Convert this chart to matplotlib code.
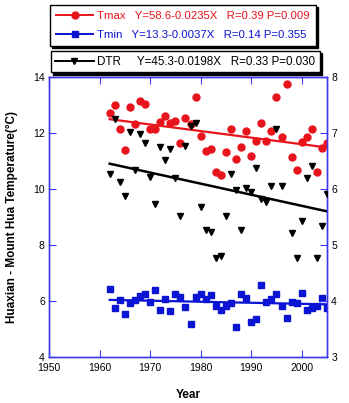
"""Tmax / Tmin / DTR trends, Huaxian - Mount Hua, 1962-2005."""

import numpy as np
import matplotlib
matplotlib.use("Agg")
import matplotlib.pyplot as plt
from matplotlib.lines import Line2D

plt.rcParams["font.family"] = ["Liberation Sans", "DejaVu Sans"]

years = np.arange(1962, 2006)

tmax = [12.73, 13.00, 12.13, 11.38, 12.92, 12.33, 13.14, 13.05, 12.14, 12.13,
        12.40, 12.60, 12.37, 12.44, 11.65, 12.52, 12.31, 13.29, 11.90, 11.35,
        11.44, 10.61, 10.50, 11.31, 12.13, 11.06, 11.50, 12.08, 11.18, 11.73,
        12.37, 11.73, 12.07, 13.30, 11.86, 13.76, 11.14, 10.68, 11.68, 11.87,
        12.13, 10.60, 11.46, 11.65]

tmin = [6.43, 5.76, 6.02, 5.54, 5.92, 6.02, 6.17, 6.24, 5.95, 6.39,
        5.67, 6.07, 5.65, 6.25, 6.13, 5.80, 5.19, 6.14, 6.24, 6.08,
        6.22, 5.83, 5.67, 5.81, 5.93, 5.06, 6.26, 6.10, 5.25, 5.36,
        6.57, 5.95, 6.06, 6.25, 5.82, 5.39, 5.96, 5.92, 6.27, 5.68,
        5.74, 5.83, 6.12, 5.74]

dtr = [6.27, 7.25, 6.12, 5.88, 7.01, 6.34, 6.99, 6.83, 6.21, 5.74,
       6.75, 6.52, 6.71, 6.20, 5.52, 6.76, 7.13, 7.17, 5.68, 5.26,
       5.23, 4.76, 4.80, 5.52, 6.26, 5.99, 5.27, 6.01, 5.95, 6.38,
       5.82, 5.77, 6.05, 7.07, 6.05, 8.37, 5.21, 4.76, 5.42, 6.20,
       6.41, 4.76, 5.34, 5.91]

# regression coefficients (intercept, slope) as printed in the legend
fit_tmax = (58.6, -0.0235)
fit_tmin = (13.3, -0.0037)
fit_dtr = (45.3, -0.0198)

labels = {
    "tmax": "Tmax   Y=58.6-0.0235X   R=0.39 P=0.009",
    "tmin": "Tmin   Y=13.3-0.0037X   R=0.14 P=0.355",
    "dtr": "DTR     Y=45.3-0.0198X   R=0.33 P=0.030",
}

RED = "#e8141c"
BLUE = "#0a14d2"
AXBLUE = "#3a3af0"

fig = plt.figure(figsize=(3.49, 4.03), dpi=100)
ax = fig.add_axes([0.1404, 0.1141, 0.7966, 0.6948])
ax2 = ax.twinx()

line = lambda c: c[0] + c[1] * years

ax.plot(years, tmax, "o", color=RED, ms=5.0, mec=RED, zorder=3)
ax.plot(years, line(fit_tmax), "-", color=RED, lw=1.6, zorder=2)
ax.plot(years, tmin, "s", color=BLUE, ms=4.4, mec=BLUE, zorder=3)
ax.plot(years, line(fit_tmin), "-", color=BLUE, lw=1.6, zorder=2)

ax2.plot(years, dtr, "v", color="black", ms=4.8, zorder=3)
ax2.plot(years, line(fit_dtr), "-", color="black", lw=1.8, zorder=2)

ax.set_xlim(1950, 2005)
ax.set_ylim(4, 14)
ax2.set_ylim(3, 8)
ax.set_xticks(np.arange(1950, 2001, 10))
ax.set_yticks(np.arange(4, 15, 2))
ax2.set_yticks(np.arange(3, 9, 1))

for a in (ax, ax2):
    for s in a.spines.values():
        s.set_color(AXBLUE)
        s.set_linewidth(1.0)
ax.tick_params(axis="both", direction="in", length=5, color=AXBLUE,
               labelsize=7.5, pad=3, top=True)
ax.tick_params(axis="x", pad=4)
ax2.tick_params(axis="y", direction="in", length=5, color=AXBLUE,
                labelsize=7.5, pad=3)

ax.set_xlabel("Year", fontsize=8.5, fontweight="bold", labelpad=12)
ax.set_ylabel("Huaxian - Mount Hua Temperature(°C)", fontsize=8.5,
              fontweight="bold", labelpad=11)

SHADOW = {"color": "black", "alpha": 1, "ox": 1.5, "oy": -1.5}


def make_legend(handles, texts, anchor, target_px, **kw):
    """Build a figure legend and scale its font so the box is target_px wide."""
    def build(size):
        return fig.legend(handles, texts, loc="upper left", bbox_to_anchor=anchor,
                          fontsize=size, fancybox=False, edgecolor="black",
                          framealpha=1, handlelength=3.3, handletextpad=0.3,
                          borderaxespad=0, shadow=SHADOW, **kw)

    size = 7.8
    for _ in range(3):
        leg = build(size)
        fig.canvas.draw()
        width = leg.get_window_extent().width
        leg.remove()
        size *= target_px / width
    leg = build(size)
    leg.get_frame().set_linewidth(1.0)
    return leg


h1 = [Line2D([], [], color=RED, marker="o", ms=5, lw=1.4),
      Line2D([], [], color=BLUE, marker="s", ms=4.5, lw=1.4)]
make_legend(h1, [labels["tmax"], labels["tmin"]], (0.142, 0.988), 266,
            labelcolor="linecolor", borderpad=0.55, labelspacing=0.8)

h2 = [Line2D([], [], color="black", marker="v", ms=5, lw=1.4)]
make_legend(h2, [labels["dtr"]], (0.145, 0.873), 271, borderpad=0.4)

fig.savefig("out.png", dpi=100)
plt.close(fig)
